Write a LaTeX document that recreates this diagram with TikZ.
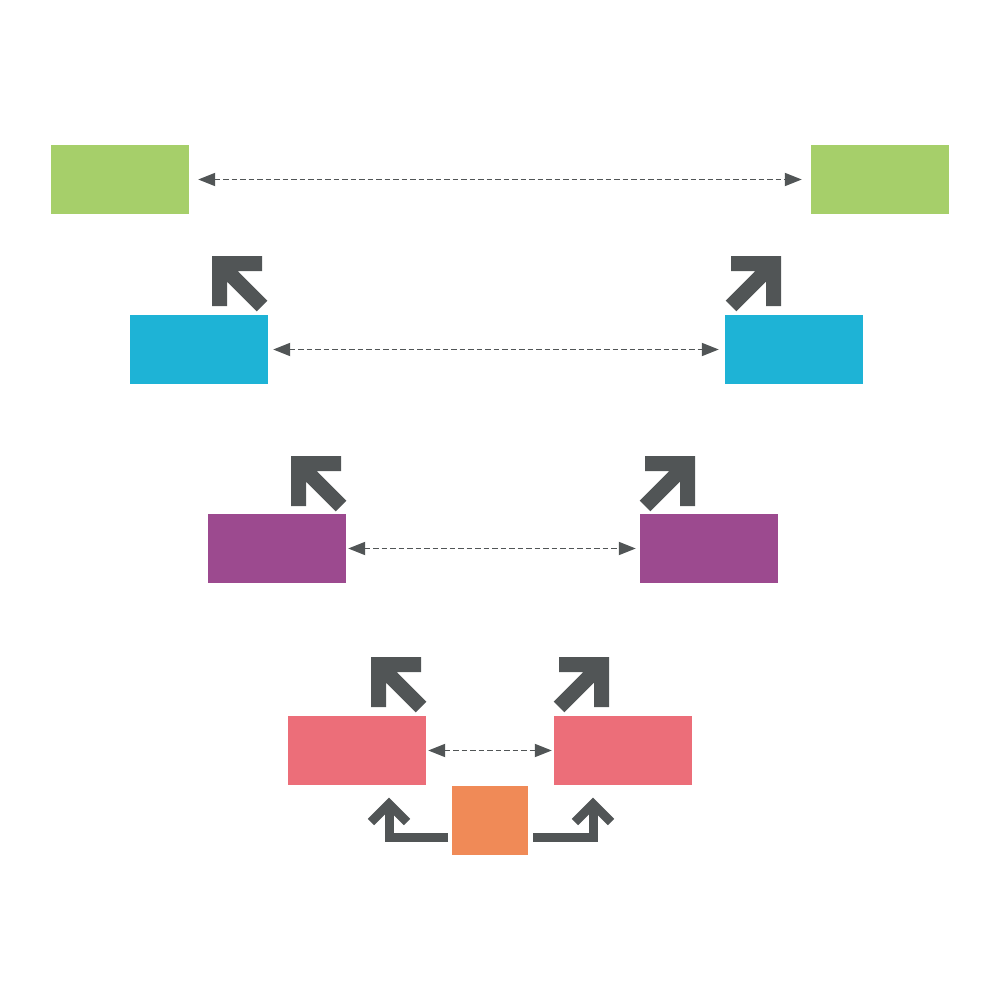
\documentclass[tikz,border=0pt]{standalone}
\usetikzlibrary{arrows.meta}
\definecolor{cgreen}{HTML}{A6CF6A}
\definecolor{cblue}{HTML}{1EB3D6}
\definecolor{cpurple}{HTML}{9C4A8F}
\definecolor{cred}{HTML}{EC6E79}
\definecolor{corange}{HTML}{F08A57}
\definecolor{cgray}{HTML}{515556}
\tikzset{
  box/.style={fill=#1, draw=none, inner sep=0pt, minimum width=138pt, minimum height=69pt},
  dasharrow/.style={cgray, line width=1.9pt, dash pattern=on 5.5pt off 3pt, {Triangle[length=17pt,width=13pt]}-{Triangle[length=17pt,width=13pt]}},
  bent/.style={cgray, line width=9pt, line join=miter, line cap=butt},
  ularrow/.pic={\fill[cgray] (0,0) -- (50,0) -- (50,15) -- (25.6,15) -- (55.3,44.7) -- (44.7,55.3) -- (15,25.6) -- (15,50) -- (0,50) -- cycle;}
}
\begin{document}
\begin{tikzpicture}[x=1pt,y=-1pt]
\useasboundingbox (0,0) rectangle (1000,1000);
% boxes
\node[box=cgreen] (gl) at (120,179.5) {};
\node[box=cgreen] (gr) at (880,179.5) {};
\node[box=cblue] (bl) at (199,349.5) {};
\node[box=cblue] (br) at (794,349.5) {};
\node[box=cpurple] (pl) at (277,548.5) {};
\node[box=cpurple] (pr) at (709,548.5) {};
\node[box=cred] (rl) at (357,750.5) {};
\node[box=cred] (rr) at (623,750.5) {};
\node[fill=corange, inner sep=0pt, minimum width=76pt, minimum height=69pt] (or) at (490,820.5) {};
% dashed connectors
\draw[dasharrow, shorten <=9pt, shorten >=9pt] (gl) -- (gr);
\draw[dasharrow, shorten <=5pt, shorten >=6pt] (bl) -- (br);
\draw[dasharrow, shorten <=2pt, shorten >=4pt] (pl) -- (pr);
\draw[dasharrow, shorten <=2pt, shorten >=2pt] (rl) -- (rr);
% diagonal arrows
\pic at (212,256) {ularrow};
\pic[xscale=-1] at (781,256) {ularrow};
\pic at (291,456) {ularrow};
\pic[xscale=-1] at (695,456) {ularrow};
\pic at (371,657) {ularrow};
\pic[xscale=-1] at (609,657) {ularrow};
% bent arrows
\coordinate (bla) at (448,837.5);
\coordinate (bra) at (533,837.5);
\draw[bent] (bla) -- (389,837.5) -- (389,806);
\draw[bent] (371,822) -- (389,804) -- (407,822);
\draw[bent] (bra) -- (593,837.5) -- (593,806);
\draw[bent] (575,822) -- (593,804) -- (611,822);
\end{tikzpicture}
\end{document}
